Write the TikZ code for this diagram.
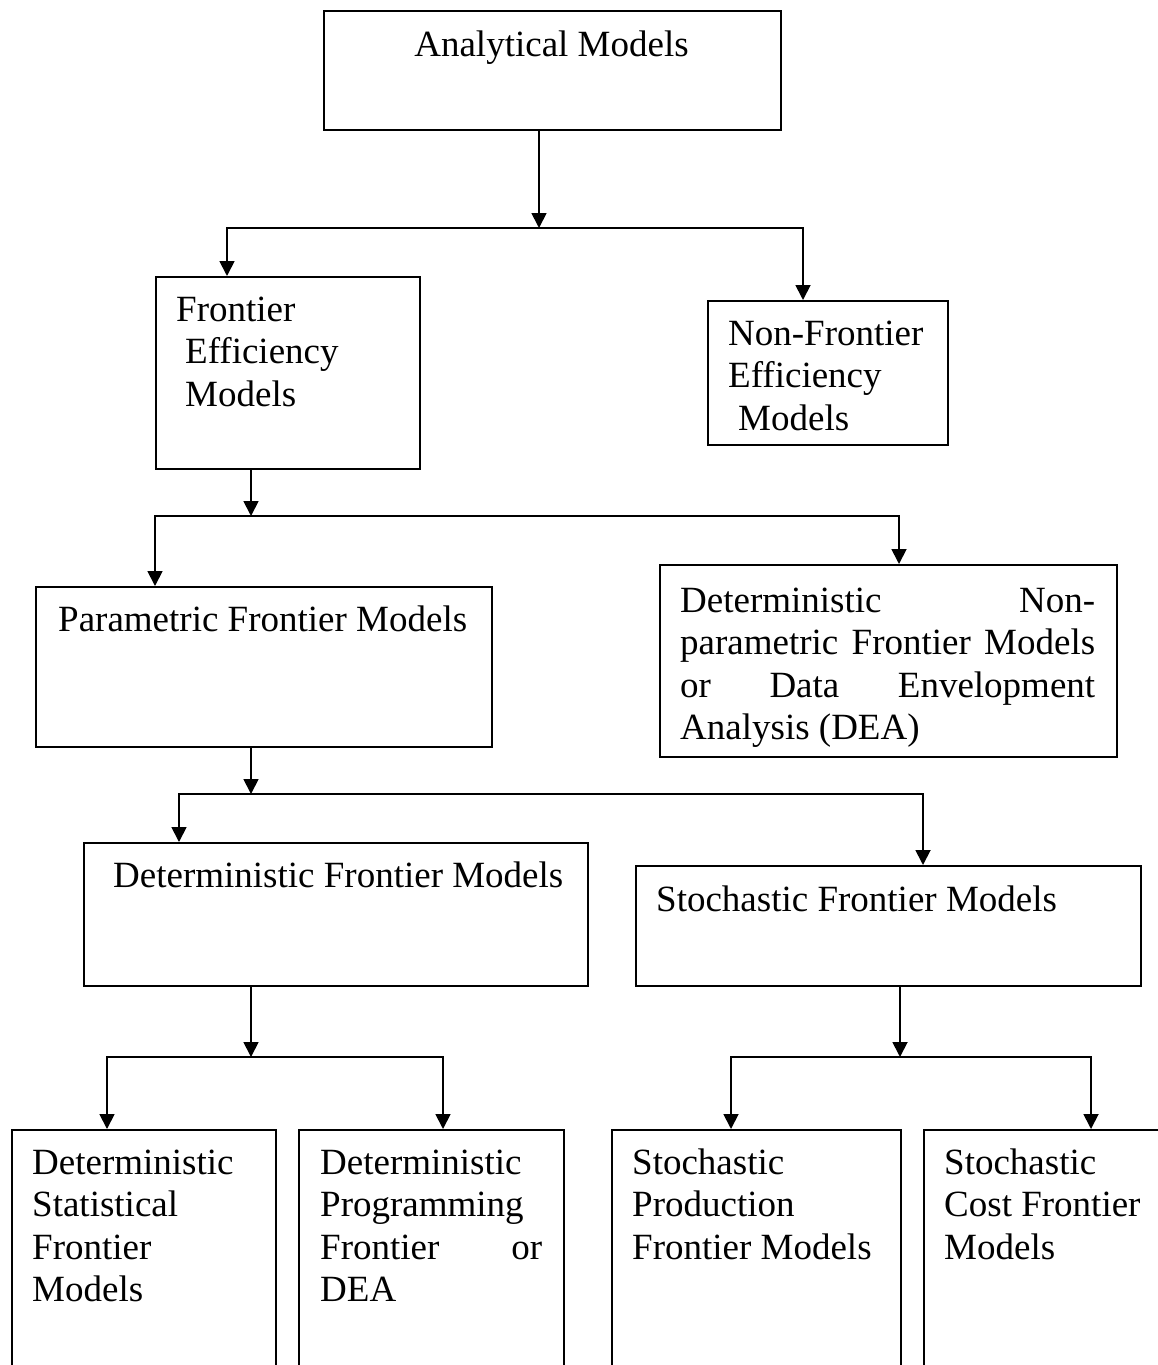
\documentclass[tikz,border=0pt]{standalone}
\usepackage{fontspec}
\setmainfont{Liberation Serif}
\usetikzlibrary{arrows.meta,calc}
\begin{document}
\begin{tikzpicture}[x=1pt,y=-1pt,
  box/.style={draw=black, line width=1.8pt, inner sep=0pt, anchor=north west},
  txt/.style={anchor=base west, inner sep=0pt, font=\fontsize{37}{42.5}\selectfont},
  conn/.style={line width=1.8pt},
  arr/.style={conn, -{Triangle[length=15pt,width=15pt]}},
]
\useasboundingbox (0,0) rectangle (1158,1365);
\fill[white] (0,0) rectangle (1158,1365);
\clip (0,0) rectangle (1158,1365);

% boxes
\node[box, minimum width=457pt, minimum height=119pt] (am) at (323,10) {};
\node[box, minimum width=264pt, minimum height=192pt] (fem) at (155,276) {};
\node[box, minimum width=240pt, minimum height=144pt] (nfem) at (707,300) {};
\node[box, minimum width=456pt, minimum height=160pt] (pfm) at (35,586) {};
\node[box, minimum width=457pt, minimum height=192pt] (dnp) at (659,564) {};
\node[box, minimum width=504pt, minimum height=143pt] (dfm) at (83,842) {};
\node[box, minimum width=505pt, minimum height=120pt] (sfm) at (635,865) {};
\node[box, minimum width=264pt, minimum height=300pt] (b1) at (11,1129) {};
\node[box, minimum width=265pt, minimum height=300pt] (b2) at (298,1129) {};
\node[box, minimum width=289pt, minimum height=300pt] (b3) at (611,1129) {};
\node[box, minimum width=280pt, minimum height=300pt] (b4) at (923,1129) {};

% texts
\node[txt, anchor=base] (am-t) at (551.5,56) {Analytical Models};
\node[txt] (fem-t) at (176,321) {\parbox[t]{240pt}{Frontier\\\hspace*{9pt}Efficiency\\\hspace*{9pt}Models}};
\node[txt] (nfem-t) at (728,345) {\parbox[t]{215pt}{Non-Frontier\\Efficiency\\\hspace*{10pt}Models}};
\node[txt] (pfm-t) at (58,631) {Parametric Frontier Models};
\node[txt] (dnp-t) at (680,612) {\parbox[t]{415pt}{\makebox[415pt][s]{Deterministic Non-}\\\makebox[415pt][s]{parametric Frontier Models}\\\makebox[415pt][s]{or Data Envelopment}\\Analysis (DEA)}};
\node[txt] (dfm-t) at (113,887) {Deterministic Frontier Models};
\node[txt] (sfm-t) at (656,911) {Stochastic Frontier Models};
\node[txt] (b1-t) at (32,1174) {\parbox[t]{240pt}{Deterministic\\Statistical\\Frontier\\Models}};
\node[txt] (b2-t) at (320,1174) {\parbox[t]{240pt}{Deterministic\\Programming\\\makebox[222pt][s]{Frontier or}\\DEA}};
\node[txt] (b3-t) at (632,1174) {\parbox[t]{265pt}{Stochastic\\Production\\Frontier Models}};
\node[txt] (b4-t) at (944,1174) {\parbox[t]{230pt}{Stochastic\\Cost Frontier\\Models}};

% junctions
\coordinate (j1) at (539,228);
\coordinate (j2) at (251,516);
\coordinate (j3) at (251,794);
\coordinate (j4) at (251,1057);
\coordinate (j5) at (900,1057);

% connectors
\draw[arr] (am.south west -| j1) -- (j1);
\draw[arr] (j1) -| ($(fem.north west)+(72,0)$);
\draw[arr] (j1) -| ($(nfem.north west)+(96,0)$);

\draw[arr] (fem.south west -| j2) -- (j2);
\draw[arr] (j2) -| ($(pfm.north west)+(120,0)$);
\draw[arr] (j2) -| ($(dnp.north west)+(240,0)$);

\draw[arr] (pfm.south west -| j3) -- (j3);
\draw[arr] (j3) -| ($(dfm.north west)+(96,0)$);
\draw[arr] (j3) -| ($(sfm.north west)+(288,0)$);

\draw[arr] (dfm.south west -| j4) -- (j4);
\draw[arr] (j4) -| ($(b1.north west)+(96,0)$);
\draw[arr] (j4) -| ($(b2.north west)+(145,0)$);

\draw[arr] (sfm.south west -| j5) -- (j5);
\draw[arr] (j5) -| ($(b3.north west)+(120,0)$);
\draw[arr] (j5) -| ($(b4.north west)+(168,0)$);
\end{tikzpicture}
\end{document}
